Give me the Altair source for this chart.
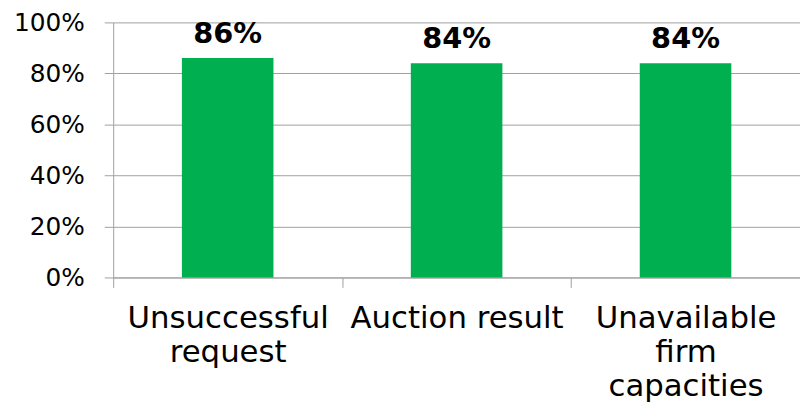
import altair as alt
import pandas as pd

categories = ["Unsuccessful request", "Auction result", "Unavailable firm capacities"]
label_lines = [["Unsuccessful", "request"], ["Auction result"], ["Unavailable", "firm", "capacities"]]
values = [0.86, 0.84, 0.84]
y_ticks = [0, 0.2, 0.4, 0.6, 0.8, 1.0]

df = pd.DataFrame({"category": categories, "value": values})

grey = "#A0A0A0"
font = "DejaVu Sans"

expr = ""
for cat, lines in zip(categories, label_lines):
    arr = "[" + ",".join(f"'{l}'" for l in lines) + "]"
    expr += f"datum.label == '{cat}' ? {arr} : "
expr += "datum.label"

x = alt.X(
    "category:N",
    sort=categories,
    scale=alt.Scale(paddingInner=0, paddingOuter=0),
    axis=alt.Axis(
        title=None, labelAngle=0, tickBand="extent", grid=False,
        domainColor=grey, tickColor=grey, tickSize=10,
        labelFontSize=31, labelFont=font, labelColor="black",
        labelPadding=16, labelLineHeight=34.5, labelBaseline="top",
        labelExpr=expr, labelLimit=0, labelOverlap=False,
    ),
)
y = alt.Y(
    "value:Q",
    scale=alt.Scale(domain=[0, 1], nice=False),
    axis=alt.Axis(
        values=y_ticks, format=".0%", title=None, grid=True,
        gridColor=grey, domainColor=grey, tickColor=grey, tickSize=9,
        labelFontSize=25, labelPadding=20, labelColor="black", labelFont=font,
    ),
)

bars = alt.Chart(df).mark_bar(color="#00B050", width=alt.RelativeBandSize(0.4)).encode(x=x, y=y)
text = alt.Chart(df).mark_text(
    dy=-15, baseline="alphabetic", fontSize=29, fontWeight="bold", font=font, color="black"
).encode(x=x, y=y, text=alt.Text("value:Q", format=".0%"))

chart = (bars + text).properties(
    width=692, height=257,
    autosize=alt.AutoSizeParams(type="none"),
    padding={"left": 106, "top": 13, "right": 0, "bottom": 127},
).configure_view(stroke=None)

chart.save("out.html", embed_options={"renderer": "svg", "actions": False})
